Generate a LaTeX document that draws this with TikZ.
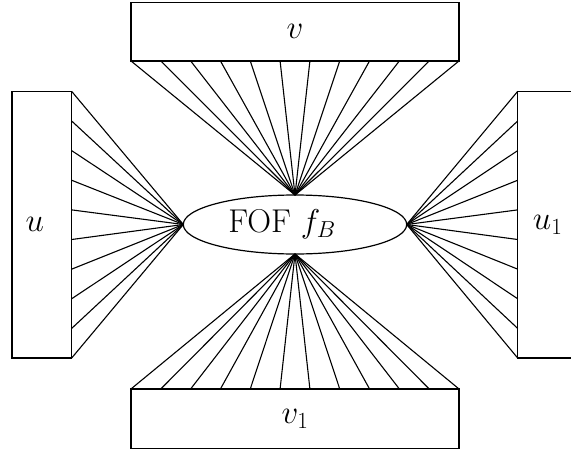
\documentclass[tikz,border=0pt]{standalone}
\usepackage{fix-cm}
\usetikzlibrary{shapes.geometric,calc}
\begin{document}
\begin{tikzpicture}[x=1pt,y=-1pt,line width=1.2pt,
  every node/.style={font=\fontsize{33}{40}\selectfont},
  boxnode/.style={draw,rectangle,inner sep=0pt,outer sep=0pt},
  fofnode/.style={draw,ellipse,inner sep=0pt,outer sep=0pt,minimum width=223.4pt,minimum height=59pt},
  fan/.style={line width=1.1pt}]
\useasboundingbox (0,0) rectangle (571,450);
\node[boxnode,minimum width=328pt,minimum height=58.3pt] (v) at (295,31.8) {$v$};
\node[boxnode,minimum width=328pt,minimum height=59.3pt] (v1) at (295,418.6) {$v_1$};
\node[boxnode,minimum width=59.7pt,minimum height=266.7pt,label={[xshift=-7pt]center:$u$}] (u) at (41.8,224.7) {};
\node[boxnode,minimum width=60pt,minimum height=266.7pt] (u1) at (547.7,224.7) {$u_1$};
\node[fofnode,label={[xshift=-13pt]center:FOF $f_B$}] (f) at (295,224.5) {};
\foreach \i in {0,...,11} {
  \draw[fan] ($(v.south west)!\i/11!(v.south east)$) -- (f.north);
  \draw[fan] ($(v1.north west)!\i/11!(v1.north east)$) -- (f.south);
}
\foreach \i in {0,...,9} {
  \draw[fan] ($(u.north east)!\i/9!(u.south east)$) -- (f.west);
  \draw[fan] ($(u1.north west)!\i/9!(u1.south west)$) -- (f.east);
}
\end{tikzpicture}
\end{document}
